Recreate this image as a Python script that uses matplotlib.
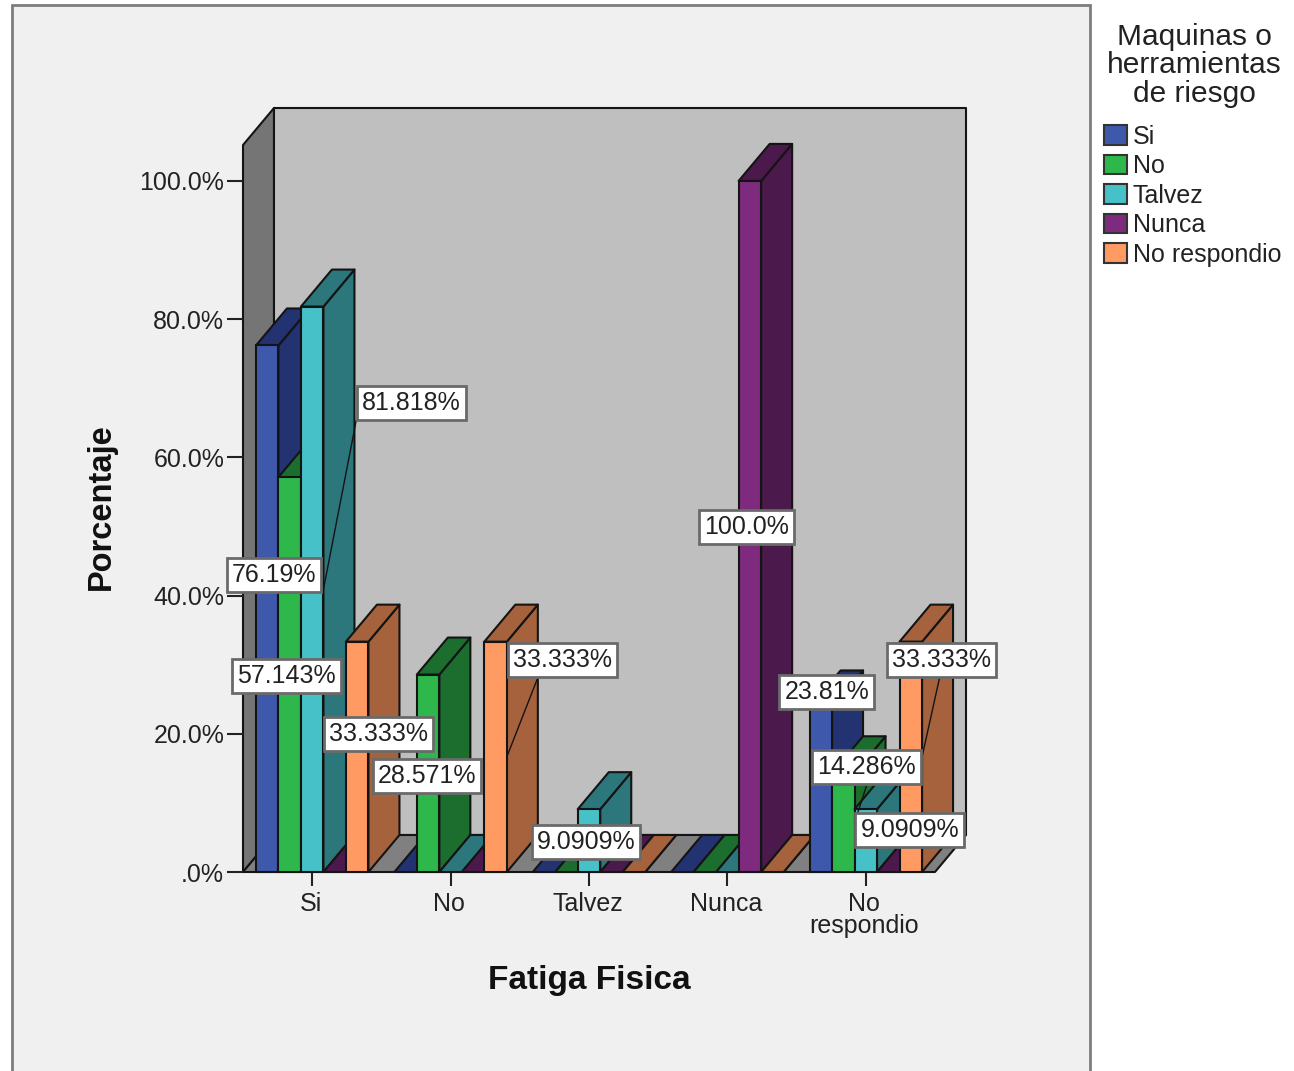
import matplotlib.pyplot as plt
from matplotlib.patches import Patch, Rectangle
from matplotlib.transforms import ScaledTranslation

plt.rcParams['font.family'] = ['Liberation Sans', 'DejaVu Sans']

# Percentages per Fatiga Fisica category, one list per legend entry
categories = ['Si', 'No', 'Talvez', 'Nunca', 'No\nrespondio']
series_names = ['Si', 'No', 'Talvez', 'Nunca', 'No respondio']
vals_si = [76.19, 0, 0, 0, 23.81]
vals_no = [57.143, 28.571, 0, 0, 14.286]
vals_talvez = [81.818, 0, 9.0909, 0, 9.0909]
vals_nunca = [0, 0, 0, 100.0, 0]
vals_norespondio = [33.333, 33.333, 0, 0, 33.333]
y_ticks = [0, 20, 40, 60, 80, 100]
y_tick_labels = ['.0%', '20.0%', '40.0%', '60.0%', '80.0%', '100.0%']

front_colors = ['#3e58ac', '#2eb84c', '#47c1c8', '#7e2a7e', '#ff9a63']
dark_colors = ['#233270', '#1b6e2e', '#2b777c', '#4b194b', '#a6623c']

W, H = 1294, 1071
fig = plt.figure(figsize=(W / 100, H / 100), dpi=100, facecolor='white')

# Panel behind the chart, its bottom edge runs off the canvas
fig.add_artist(Rectangle((12 / W, -0.02), 1078 / W, 1 - 5 / H + 0.02, transform=fig.transFigure,
                         facecolor='#f0f0f0', edgecolor='#7d7d7d', linewidth=2, zorder=-1))

# Axes box is the front plane of the 3D room
left, right, bottom, top = 243, 935, 872, 145
ax = fig.add_axes([left / W, 1 - bottom / H, (right - left) / W, (bottom - top) / H])
ax.patch.set_visible(False)
for s in ax.spines.values():
    s.set_visible(False)

PX_X = 5 / (right - left)   # categories per pixel
PX_Y = 0.1447               # percent per pixel
x0, x1 = -0.5, 4.5
y_top = (bottom - top) * PX_Y
ax.set_xlim(x0, x1)
ax.set_ylim(0, y_top)

DX = 31 * PX_X
DY = 37 * PX_Y
BAR_W = 22.5 * PX_X
EDGE = '#141414'
LW = 1.5


def poly(xs, ys, color, z):
    ax.fill(xs, ys, facecolor=color, edgecolor=EDGE, linewidth=LW, clip_on=False,
            joinstyle='round', zorder=z)


# Room walls and floor
poly([x0, x0 + DX, x0 + DX, x0], [0, DY, y_top + DY, y_top], '#757575', 1)
poly([x0 + DX, x1 + DX, x1 + DX, x0 + DX], [DY, DY, y_top + DY, y_top + DY], '#bfbfbf', 1)
poly([x0, x1, x1 + DX, x0 + DX], [0, 0, DY, DY], '#808080', 1)

all_series = [vals_si, vals_no, vals_talvez, vals_nunca, vals_norespondio]

# Painter's order, left to right, so each bar hides the side of the one before it
z = 2.0
for i in range(len(categories)):
    for j, series in enumerate(all_series):
        v = series[i]
        xl = i + (j - 2.5) * BAR_W
        xr = xl + BAR_W
        z += 0.01
        poly([xr, xr + DX, xr + DX, xr], [0, DY, v + DY, v], dark_colors[j], z)
        poly([xl, xr, xr + DX, xl + DX], [v, v, v + DY, v + DY], dark_colors[j], z)
        if v > 0:
            ax.bar(xl, v, BAR_W, align='edge', color=front_colors[j], edgecolor=EDGE,
                   linewidth=LW, clip_on=False, zorder=z)


def value_text(v):
    return '100.0%' if v == 100 else f'{v:.5g}%'


# series, category, box centre relative to the bar top in pixels
value_labels = [
    (0, 0, 7, -230), (1, 0, -3, -199), (2, 0, 99, -96), (4, 0, 21, -92),
    (1, 1, -1, -101), (4, 1, 67, -18), (2, 2, -3, -33), (3, 3, -3, -346),
    (0, 4, 6, 15), (1, 4, 23, 6), (2, 4, 44, -21), (4, 4, 31, -18),
]
# series, category, start of the leader relative to the bar top in pixels
leaders = [(2, 0, 44, -114), (4, 1, 43, -34), (4, 4, 29, -35), (1, 4, 24, -10)]

for j, i, sx, sy in leaders:
    v = all_series[j][i]
    xr = i + (j - 1.5) * BAR_W
    xc = i + (j - 2) * BAR_W
    ax.plot([xc + sx * PX_X, xr], [v + sy * PX_Y, v / 2], color=EDGE, lw=1, clip_on=False, zorder=4)

for j, i, ox, oy in value_labels:
    v = all_series[j][i]
    xc = i + (j - 2) * BAR_W
    ax.text(xc + ox * PX_X, v + oy * PX_Y, value_text(v), ha='center', va='center',
            fontsize=18, color='#222222', zorder=5, clip_on=False,
            bbox=dict(boxstyle='square,pad=0.2', facecolor='white', edgecolor='#6a6a6a', linewidth=2))

# Axes ticks and titles
ax.set_yticks(y_ticks)
ax.set_yticklabels(y_tick_labels, fontsize=18, color='#222222')
ax.set_xticks(range(len(categories)))
ax.set_xticklabels(categories, fontsize=18, color='#222222', linespacing=0.88)
ax.tick_params(axis='y', length=11.5, width=1.5, color='#222222', pad=2)
ax.tick_params(axis='x', length=10, width=1.5, color='#222222', pad=4.5)

# Category labels sit slightly left of their ticks
nudge = ScaledTranslation(-1.5 / 100, 0, fig.dpi_scale_trans)
for lab in ax.get_xticklabels():
    lab.set_transform(lab.get_transform() + nudge)

fig.text(589 / W, 1 - 980 / H, 'Fatiga Fisica', fontsize=24, fontweight='bold',
         ha='center', va='center', color='#111111')
fig.text(101 / W, 1 - 507 / H, 'Porcentaje', fontsize=23.5, fontweight='bold', rotation=90,
         ha='center', va='center', color='#111111')

# Legend on the white strip at the right
handles = [Patch(facecolor=c, edgecolor='#333333', linewidth=1.5) for c in front_colors]
leg = fig.legend(handles, series_names, loc='upper left', bbox_to_anchor=(1104 / W, 1 - 23 / H),
                 frameon=False, fontsize=18, title='Maquinas o\nherramientas\nde riesgo',
                 title_fontsize=21.5, borderpad=0, borderaxespad=0, handlelength=0.9,
                 handleheight=0.82, handletextpad=0.25, labelspacing=0.22, labelcolor='#222222')
leg.get_title().set_multialignment('center')
leg.get_title().set_linespacing(1.02)
leg.get_title().set_color('#222222')
leg.get_title().set_position((2, 0))
leg._legend_box.sep = 12

fig.savefig('out.png', dpi=100)
